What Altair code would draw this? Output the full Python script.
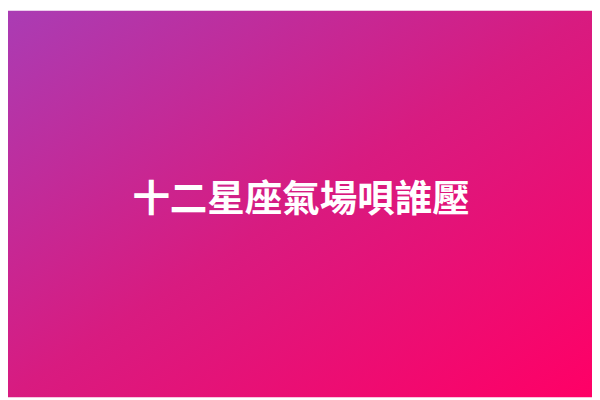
import altair as alt
import pandas as pd

titles = ["十二星座氣場唄誰壓"]
df = pd.DataFrame({"title": titles})

W, H = 592, 392

grad = alt.Gradient(
    gradient="linear",
    stops=[
        alt.GradientStop(color="#aa3cb4", offset=0),
        alt.GradientStop(color="#d81b80", offset=0.5),
        alt.GradientStop(color="#ff0066", offset=1),
    ],
    x1=0, y1=0, x2=1, y2=1,
)

bg = alt.Chart(df).mark_rect(color=grad).encode(
    x=alt.value(0), x2=alt.value(W), y=alt.value(0), y2=alt.value(H)
)

txt = alt.Chart(df).mark_text(
    font="Noto Sans CJK TC", fontSize=38, fontWeight="bold", color="white",
    align="center", baseline="middle"
).encode(x=alt.value(297), y=alt.value(193), text="title:N")

chart = alt.layer(bg, txt).properties(width=W, height=H, padding=0).configure_view(
    strokeWidth=0
)

chart.save("out.html", embed_options={"renderer": "svg", "actions": False})
